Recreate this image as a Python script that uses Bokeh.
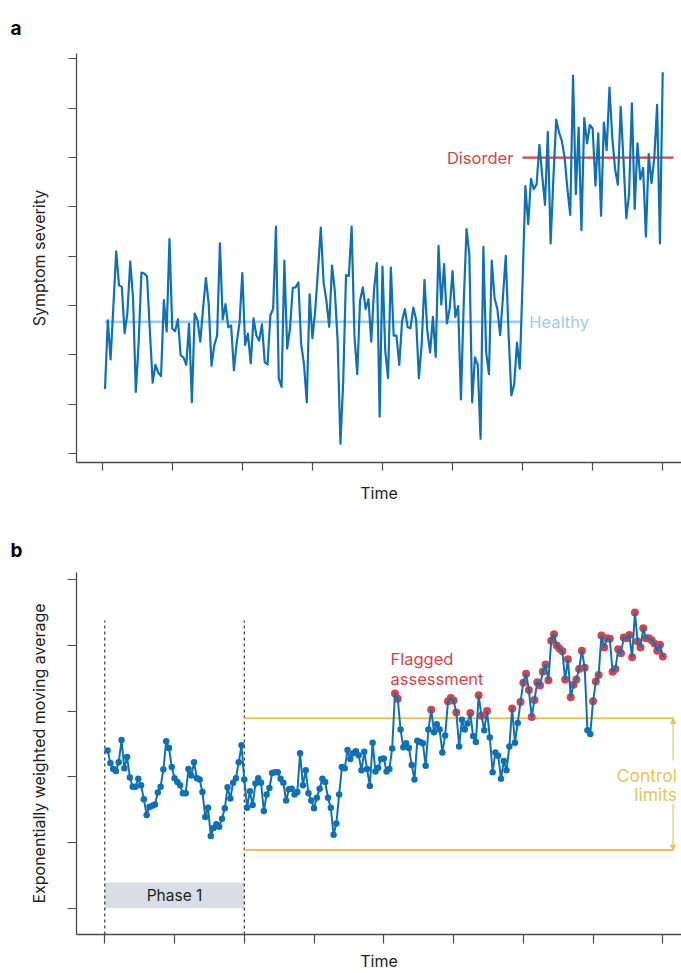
from bokeh.plotting import figure
from bokeh.layouts import column
from bokeh.models import FixedTicker, Label, Range1d, Arrow, NormalHead
from bokeh.embed import file_html
from bokeh.resources import INLINE

# ---------------- data ----------------
time = list(range(1, 201))

severity = [
    1.31, 2.70, 1.91, 3.00, 4.10, 3.41, 3.38, 2.44, 2.86, 3.89,
    3.16, 1.25, 2.25, 3.67, 3.65, 3.59, 2.50, 1.44, 1.80, 1.64,
    1.57, 3.11, 2.47, 4.35, 2.53, 2.48, 2.72, 1.99, 1.95, 1.80,
    2.63, 1.04, 2.84, 2.70, 2.27, 2.95, 3.56, 3.03, 1.78, 2.20,
    2.39, 4.26, 2.72, 3.03, 2.56, 2.60, 1.69, 2.25, 2.65, 3.66,
    2.20, 2.43, 1.83, 2.74, 2.40, 2.29, 2.62, 1.85, 1.81, 2.80,
    2.94, 4.60, 1.52, 1.35, 3.91, 2.13, 2.54, 3.36, 3.37, 3.47,
    2.22, 1.81, 1.04, 3.23, 2.34, 2.89, 3.72, 4.58, 3.47, 3.10,
    2.57, 3.81, 3.30, 2.29, 0.20, 1.47, 3.62, 3.60, 4.60, 2.39,
    1.61, 3.10, 3.37, 2.93, 3.13, 2.27, 3.33, 3.86, 0.75, 3.79,
    2.08, 1.53, 3.77, 2.39, 2.39, 1.80, 2.69, 2.93, 2.56, 2.54,
    2.96, 2.72, 1.53, 2.22, 3.52, 2.49, 2.05, 2.77, 1.96, 4.21,
    3.02, 3.84, 2.64, 2.95, 3.70, 2.77, 2.99, 1.10, 3.06, 4.55,
    4.04, 1.04, 1.95, 1.80, 0.30, 4.19, 2.05, 1.61, 3.91, 3.15,
    2.93, 2.40, 3.18, 4.01, 2.42, 1.18, 1.40, 2.25, 1.72, 3.50,
    5.42, 4.65, 5.57, 5.36, 5.46, 6.26, 5.63, 5.04, 6.52, 4.26,
    5.60, 6.77, 6.51, 6.34, 6.00, 5.36, 4.84, 7.66, 5.26, 6.61,
    4.53, 6.80, 6.29, 6.66, 6.59, 5.43, 6.49, 4.82, 6.71, 6.15,
    7.42, 6.40, 5.77, 5.45, 7.03, 5.94, 4.77, 5.26, 7.10, 4.96,
    6.29, 5.56, 5.79, 4.40, 6.07, 5.48, 6.00, 7.07, 4.26, 7.73,
]

ewma = [
    2.40, 2.21, 2.12, 2.09, 2.22, 2.56, 2.13, 2.30, 1.99, 1.85,
    1.85, 1.97, 1.87, 1.66, 1.42, 1.54, 1.56, 1.58, 1.76, 1.85,
    2.11, 2.54, 2.44, 2.15, 1.98, 1.92, 1.87, 1.75, 1.75, 2.12,
    2.02, 2.22, 1.98, 1.96, 1.77, 1.39, 1.53, 1.10, 1.22, 1.28,
    1.24, 1.36, 1.52, 1.84, 1.67, 1.91, 1.98, 2.22, 2.48, 1.96,
    1.53, 1.78, 1.57, 1.90, 1.98, 1.91, 1.48, 1.73, 1.83, 2.06,
    2.07, 2.07, 1.97, 1.91, 1.64, 1.81, 1.82, 1.73, 1.77, 2.36,
    1.87, 2.10, 1.75, 1.64, 1.52, 1.68, 1.82, 1.97, 1.92, 1.68,
    1.53, 1.12, 1.29, 1.73, 2.15, 2.13, 2.41, 2.27, 2.36, 2.39,
    2.33, 2.10, 2.38, 2.12, 1.86, 2.52, 2.08, 2.14, 2.27, 2.28,
    2.08, 2.12, 2.43, 3.27, 3.19, 2.72, 2.45, 2.51, 2.44, 2.18,
    1.96, 2.55, 2.53, 2.51, 2.17, 2.72, 3.02, 2.68, 2.80, 2.72,
    2.37, 2.63, 3.15, 3.20, 3.16, 2.98, 2.46, 2.87, 2.72, 2.81,
    2.97, 2.62, 2.53, 3.24, 2.93, 2.71, 3.00, 2.60, 2.07, 2.37,
    2.32, 1.97, 2.24, 2.10, 2.46, 3.04, 2.52, 2.82, 3.14, 3.43,
    3.57, 3.32, 2.91, 3.17, 3.44, 3.39, 3.60, 3.71, 3.47, 4.07,
    4.17, 4.00, 3.95, 3.91, 3.48, 3.79, 3.21, 3.40, 3.48, 3.64,
    3.92, 3.66, 2.71, 2.65, 3.15, 3.45, 3.55, 4.15, 3.97, 4.11,
    4.10, 3.60, 3.64, 3.94, 3.88, 4.12, 4.11, 4.16, 3.82, 4.50,
    4.06, 3.97, 4.26, 4.11, 4.11, 4.08, 4.03, 3.92, 4.01, 3.83,
]

x_ticks = [0, 25, 50, 75, 100, 125, 150, 175, 200]
severity_ticks = [0, 1, 2, 3, 4, 5, 6, 7, 8]
ewma_ticks = [0, 1, 2, 3, 4, 5]

healthy_level = 2.67
disorder_level = 6.0
onset_time = 150
upper_limit = 2.89
lower_limit = 0.885
phase1_start = 0
phase1_end = 50

# ---------------- style ----------------
BLUE = "#0f71b3"
LIGHT_BLUE = "#9fcbea"
RED = "#d2454c"
YELLOW = "#e8c35a"
GREY_BOX = "#d9dde6"
AXIS = "#4a4a4a"
TEXT = "#231f20"
FONT = "Inter"


def style_axes(p, xt, yt, tick_len, xlabel, ylabel, xstand, ystand, letter, letter_off, letter_stand):
    p.outline_line_color = None
    p.grid.visible = False
    p.background_fill_color = "white"
    p.border_fill_color = "white"
    for ax, ticks in ((p.xaxis, xt), (p.yaxis, yt)):
        ax.ticker = FixedTicker(ticks=ticks)
        ax.major_label_overrides = {t: "" for t in ticks}
        ax.major_label_text_font_size = "0px"
        ax.major_label_standoff = 0
        ax.major_tick_out = tick_len
        ax.major_tick_in = 0
        ax.minor_tick_line_color = None
        ax.axis_line_color = AXIS
        ax.axis_line_width = 1.3
        ax.major_tick_line_color = AXIS
        ax.major_tick_line_width = 1.2
        ax.axis_label_text_font = FONT
        ax.axis_label_text_font_style = "normal"
        ax.axis_label_text_font_size = "16px"
        ax.axis_label_text_color = TEXT
    p.xaxis.axis_label = xlabel
    p.xaxis.axis_label_standoff = xstand
    p.yaxis.axis_label = ylabel
    p.yaxis.axis_label_standoff = ystand
    p.title.text = letter
    p.title.align = "left"
    p.title.offset = letter_off
    p.title.standoff = letter_stand
    p.title.text_font = FONT
    p.title.text_font_style = "bold"
    p.title.text_font_size = "19px"
    p.title.text_color = "black"


# ---------------- panel a ----------------
xa0, xa1 = -9.17, 206.7
pa = figure(width=681, height=522, x_range=Range1d(xa0, xa1), y_range=Range1d(-0.18, 8.11),
            output_backend="svg", toolbar_location=None,
            min_border_left=76, min_border_right=0, min_border_top=53, min_border_bottom=60)
style_axes(pa, x_ticks, severity_ticks, 8, "Time", "Symptom severity", 12, 20, "a", -66, 28)

disorder_end = 203.8
pa.line([time[0], onset_time], [healthy_level, healthy_level], line_color=LIGHT_BLUE, line_width=2.6)
pa.line([onset_time, disorder_end], [disorder_level, disorder_level], line_color=RED, line_width=2.4)
pa.line(time, severity, line_color=BLUE, line_width=2.2, line_join="round")

pa.add_layout(Label(x=146.7, y=disorder_level, text="Disorder", text_align="right",
                    text_baseline="middle", text_color=RED, text_font=FONT,
                    text_font_size="16.5px"))
pa.add_layout(Label(x=152.4, y=healthy_level, text="Healthy", text_align="left",
                    text_baseline="middle", text_color=LIGHT_BLUE, text_font=FONT,
                    text_font_size="16.5px"))

# ---------------- panel b ----------------
xb0, xb1 = -10.14, 206.7
pb = figure(width=681, height=451, x_range=Range1d(xb0, xb1), y_range=Range1d(-0.40, 5.11),
            output_backend="svg", toolbar_location=None,
            min_border_left=76, min_border_right=0, min_border_top=50, min_border_bottom=36)
style_axes(pb, x_ticks, ewma_ticks, 9, "Time", "Exponentially weighted moving average", 7, 19,
           "b", -66, 22)

limit_end = 203.9
pb.quad(left=[phase1_start], right=[phase1_end], bottom=[0.0], top=[0.39],
        fill_color=GREY_BOX, line_color=None)
for xv in (phase1_start, phase1_end):
    pb.line([xv, xv], [-0.40, 4.38], line_color="#222222", line_width=1.1, line_dash="3 3")

pb.line([phase1_end, limit_end], [upper_limit, upper_limit], line_color=YELLOW, line_width=2)
pb.line([phase1_end, limit_end], [lower_limit, lower_limit], line_color=YELLOW, line_width=2)

is_flag = [t > phase1_end and v > upper_limit for t, v in zip(time, ewma)]
flag_t = [t for t, f in zip(time, is_flag) if f]
flag_v = [v for v, f in zip(ewma, is_flag) if f]
ok_t = [t for t, f in zip(time, is_flag) if not f]
ok_v = [v for v, f in zip(ewma, is_flag) if not f]

pb.scatter(flag_t, flag_v, size=8, fill_color=RED, line_color=None)
pb.line(time, ewma, line_color=BLUE, line_width=2)
pb.scatter(ok_t, ok_v, size=6.5, fill_color=BLUE, line_color=None)

arrow_x = 203.7
pb.add_layout(Arrow(end=NormalHead(size=5, fill_color=YELLOW, line_color=YELLOW),
                    x_start=arrow_x, y_start=2.25, x_end=arrow_x, y_end=upper_limit,
                    line_color=YELLOW, line_width=1.2))
pb.add_layout(Arrow(end=NormalHead(size=5, fill_color=YELLOW, line_color=YELLOW),
                    x_start=arrow_x, y_start=1.59, x_end=arrow_x, y_end=lower_limit,
                    line_color=YELLOW, line_width=1.2))

pb.add_layout(Label(x=205.1, y=2.015, text="Control", text_align="right",
                    text_baseline="alphabetic", text_color=YELLOW, text_font=FONT,
                    text_font_size="17.5px"))
pb.add_layout(Label(x=205.1, y=1.725, text="limits", text_align="right",
                    text_baseline="alphabetic", text_color=YELLOW, text_font=FONT,
                    text_font_size="17.5px"))
pb.add_layout(Label(x=102.4, y=3.795, text="Flagged", text_align="left",
                    text_baseline="alphabetic", text_color=RED, text_font=FONT,
                    text_font_size="16.5px"))
pb.add_layout(Label(x=102.4, y=3.495, text="assessment", text_align="left",
                    text_baseline="alphabetic", text_color=RED, text_font=FONT,
                    text_font_size="16.5px"))
pb.add_layout(Label(x=25, y=0.19, text="Phase 1", text_align="center",
                    text_baseline="middle", text_color=TEXT, text_font=FONT,
                    text_font_size="15.5px"))

layout = column(pa, pb, spacing=0)
open("out.html", "w").write(file_html(layout, INLINE))
